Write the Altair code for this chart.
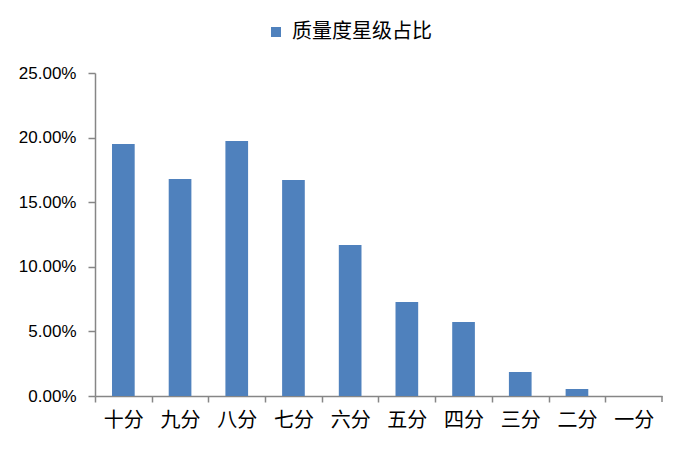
import altair as alt
import pandas as pd

categories = ["十分", "九分", "八分", "七分", "六分", "五分", "四分", "三分", "二分", "一分"]
values = [0.195, 0.168, 0.1974, 0.1672, 0.1169, 0.0728, 0.0573, 0.0186, 0.0054, 0.0]
series_name = "质量度星级占比"

df = pd.DataFrame({"cat": categories, "val": values, "series": [series_name] * len(categories)})

W, H = 567, 323
AX = "#868686"

bars = alt.Chart(df).mark_bar(color="#4F81BD").encode(
    x=alt.X("cat:N", sort=categories, title=None,
            scale=alt.Scale(paddingInner=0.6, paddingOuter=0.3),
            axis=alt.Axis(labelAngle=0, tickOffset=-W / 20, labelOffset=W / 20, tickSize=6, tickColor=AX,
                          domainColor=AX, labelFont="Noto Sans CJK SC", labelFontSize=20,
                          labelColor="#000000", labelPadding=8, tickWidth=1.5, domainWidth=1.5)),
    y=alt.Y("val:Q", title=None,
            scale=alt.Scale(domain=[0, 0.25], nice=False),
            axis=alt.Axis(values=[0, 0.05, 0.10, 0.15, 0.20, 0.25], format=".2%", grid=False,
                          tickSize=7, tickColor=AX, domainColor=AX, labelFont="Liberation Sans",
                          labelFontSize=17, labelColor="#000000", labelPadding=12,
                          tickWidth=1.5, domainWidth=1.5)),
    color=alt.Color("series:N", title=None,
                    scale=alt.Scale(range=["#4F81BD"]),
                    legend=alt.Legend(orient="none", legendX=171, legendY=-51, symbolType="square",
                                      symbolSize=100, symbolStrokeWidth=0, labelFont="Noto Sans CJK SC",
                                      labelFontSize=20, labelColor="#000000", labelOffset=6, padding=0)),
)

end_tick = alt.Chart(pd.DataFrame({"t": [0]})).mark_rule(color=AX, strokeWidth=1.5).encode(
    x=alt.value(W), y=alt.value(H), y2=alt.value(H + 6)
)

chart = alt.layer(bars, end_tick).properties(
    width=W, height=H,
    autosize=alt.AutoSizeParams(type="none"),
    padding={"left": 87, "top": 65, "right": 15, "bottom": 46},
).configure_view(stroke=None)

chart.save("out.html", embed_options={"renderer": "svg", "actions": False})
